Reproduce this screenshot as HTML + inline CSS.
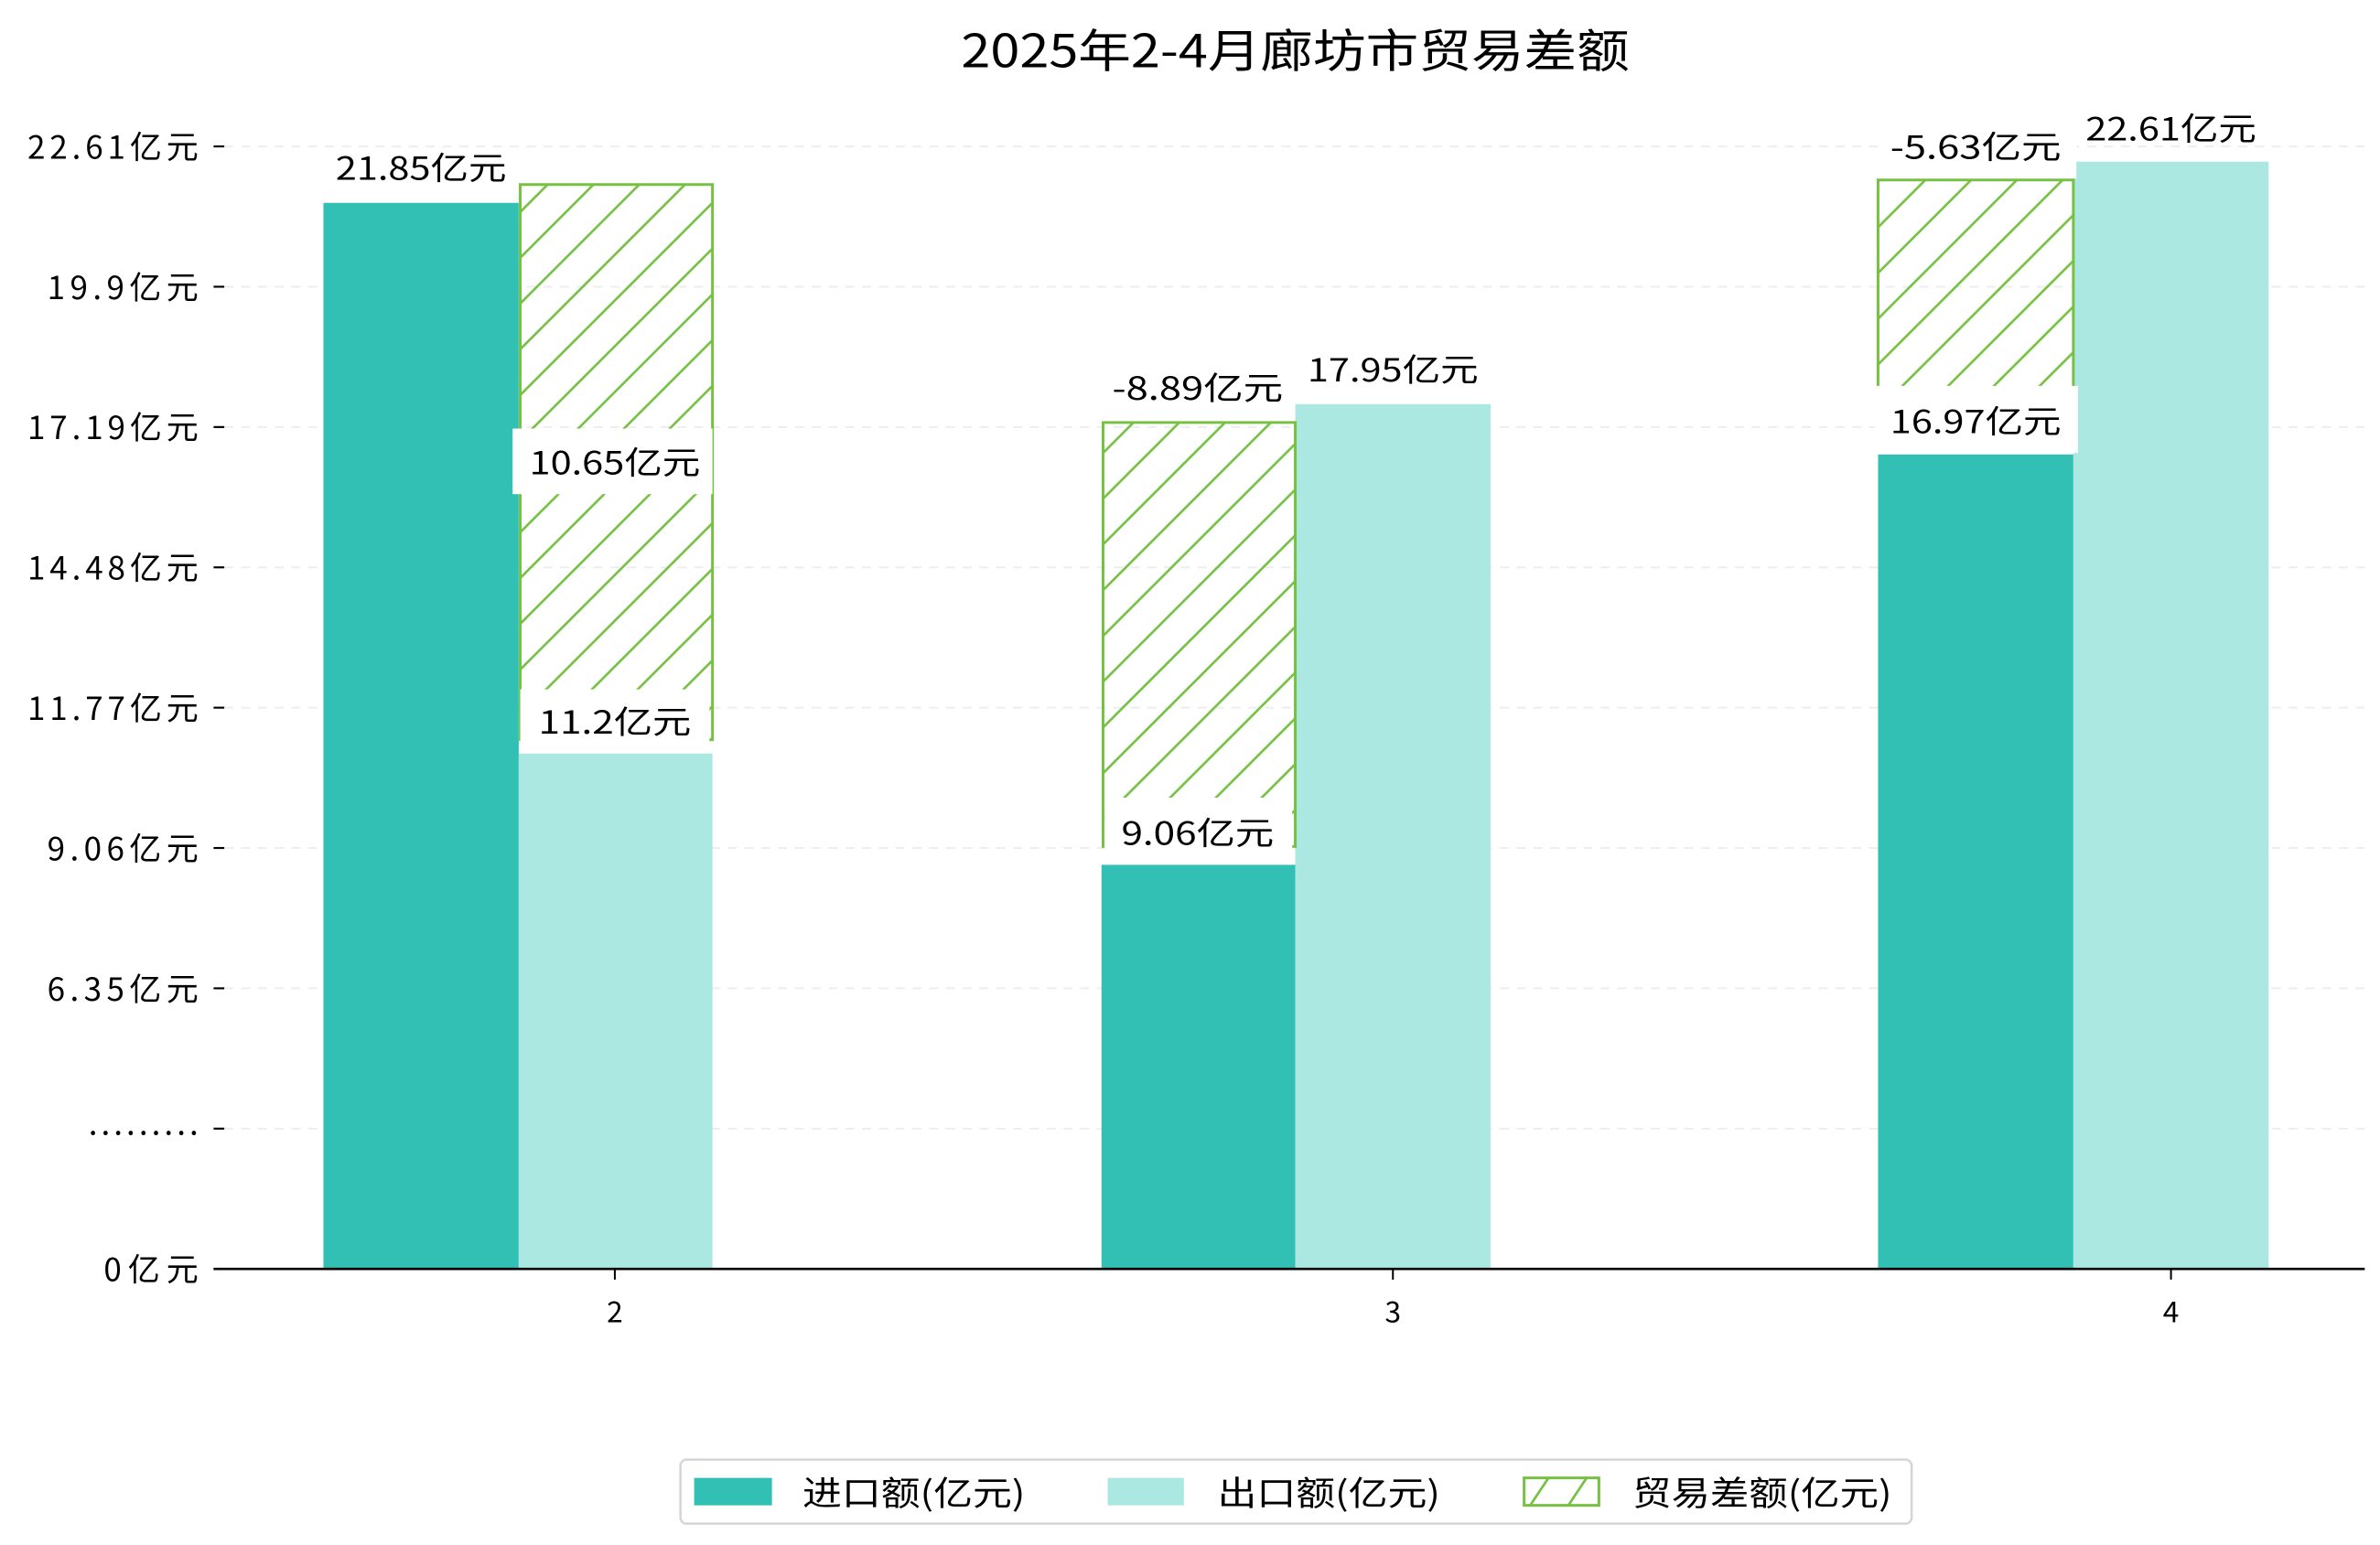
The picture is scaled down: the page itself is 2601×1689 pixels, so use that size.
<!DOCTYPE html>
<html><head><meta charset="utf-8"><style>html,body{margin:0;padding:0;background:#fff}svg{display:block}</style></head>
<body>
<svg width="2601" height="1689" viewBox="0 0 1560 1013" preserveAspectRatio="none" xmlns="http://www.w3.org/2000/svg" font-family="'WenQuanYi Zen Hei','Noto Sans CJK SC',sans-serif">
<defs>
<pattern id="h" patternUnits="userSpaceOnUse" width="30" height="30">
<path d="M-5,5 L5,-5 M0,30 L30,0 M25,35 L35,25" stroke="#76c043" stroke-width="1.6"/>
</pattern>
</defs>
<rect width="1560" height="1013" fill="#fff"/>
<text x="849" y="44" font-size="30" text-anchor="middle" textLength="438" lengthAdjust="spacingAndGlyphs">2025年2-4月廊坊市贸易差额</text>
<g stroke="#eee" stroke-width="1.2" stroke-dasharray="6,5">
<line x1="147" y1="96" x2="1550" y2="96"/><line x1="147" y1="188" x2="1550" y2="188"/><line x1="147" y1="280" x2="1550" y2="280"/><line x1="147" y1="372" x2="1550" y2="372"/><line x1="147" y1="464" x2="1550" y2="464"/><line x1="147" y1="556" x2="1550" y2="556"/><line x1="147" y1="648" x2="1550" y2="648"/><line x1="147" y1="740" x2="1550" y2="740"/>
</g>
<g stroke="#000" stroke-width="1.3">
<line x1="140" y1="96" x2="147" y2="96"/><line x1="140" y1="188" x2="147" y2="188"/><line x1="140" y1="280" x2="147" y2="280"/><line x1="140" y1="372" x2="147" y2="372"/><line x1="140" y1="464" x2="147" y2="464"/><line x1="140" y1="556" x2="147" y2="556"/><line x1="140" y1="648" x2="147" y2="648"/><line x1="140" y1="740" x2="147" y2="740"/><line x1="140" y1="832" x2="147" y2="832"/>
</g>
<g font-size="21" text-anchor="end" lengthAdjust="spacingAndGlyphs">
<text x="130" y="104" textLength="112">22.61亿元</text><text x="130" y="196" textLength="99">19.9亿元</text><text x="130" y="288" textLength="112">17.19亿元</text><text x="130" y="380" textLength="112">14.48亿元</text><text x="130" y="472" textLength="112">11.77亿元</text><text x="130" y="564" textLength="99">9.06亿元</text><text x="130" y="656" textLength="99">6.35亿元</text><text x="130" y="744" textLength="72">.........</text><text x="130" y="840" textLength="62">0亿元</text>
</g>
<rect x="212" y="133" width="128" height="699" fill="#31c0b3"/>
<rect x="340" y="494" width="127" height="338" fill="#abe8e2"/>
<rect x="722" y="567" width="127" height="265" fill="#31c0b3"/>
<rect x="849" y="265" width="128" height="567" fill="#abe8e2"/>
<rect x="1231" y="298" width="128" height="534" fill="#31c0b3"/>
<rect x="1359" y="106" width="128" height="726" fill="#abe8e2"/>
<rect x="341" y="121" width="126" height="364" fill="url(#h)" stroke="#76c043" stroke-width="1.8"/>
<rect x="723" y="277" width="126" height="278" fill="url(#h)" stroke="#76c043" stroke-width="1.8"/>
<rect x="1231" y="118" width="128" height="142" fill="url(#h)" stroke="#76c043" stroke-width="1.8"/>
<rect x="336" y="281" width="131" height="43" fill="#fff"/>
<rect x="341" y="452" width="124" height="42" fill="#fff"/>
<rect x="724" y="523" width="123" height="44" fill="#fff"/>
<rect x="1229" y="253" width="133" height="44" fill="#fff"/>
<rect x="1231" y="80" width="130" height="37" fill="#fff"/>
<rect x="722" y="238" width="127" height="38" fill="#fff"/>
<g font-size="21" text-anchor="middle">
<text x="276" y="118" textLength="112" lengthAdjust="spacingAndGlyphs">21.85亿元</text>
<text x="403" y="311" textLength="112" lengthAdjust="spacingAndGlyphs">10.65亿元</text>
<text x="403" y="481" textLength="100" lengthAdjust="spacingAndGlyphs">11.2亿元</text>
<text x="785" y="262" textLength="112" lengthAdjust="spacingAndGlyphs">-8.89亿元</text>
<text x="913" y="250" textLength="112" lengthAdjust="spacingAndGlyphs">17.95亿元</text>
<text x="785" y="554" textLength="100" lengthAdjust="spacingAndGlyphs">9.06亿元</text>
<text x="1295" y="104" textLength="112" lengthAdjust="spacingAndGlyphs">-5.63亿元</text>
<text x="1423" y="92" textLength="112" lengthAdjust="spacingAndGlyphs">22.61亿元</text>
<text x="1295" y="284" textLength="112" lengthAdjust="spacingAndGlyphs">16.97亿元</text>
</g>
<line x1="140" y1="832" x2="1550" y2="832" stroke="#000" stroke-width="1.6"/>
<g stroke="#000" stroke-width="1.2"><line x1="403" y1="832" x2="403" y2="839"/><line x1="913" y1="832" x2="913" y2="839"/><line x1="1423" y1="832" x2="1423" y2="839"/></g>
<g font-size="19" text-anchor="middle"><text x="403" y="867">2</text><text x="913" y="867">3</text><text x="1423" y="867">4</text></g>
<rect x="446" y="957" width="807" height="42" rx="4" fill="#fff" stroke="#d5d5d5" stroke-width="1.5"/>
<rect x="455" y="969" width="51" height="18" fill="#31c0b3"/>
<text x="526" y="987" font-size="22" textLength="146" lengthAdjust="spacingAndGlyphs">进口额(亿元)</text>
<rect x="726" y="969" width="50" height="18" fill="#abe8e2"/>
<text x="798" y="987" font-size="22" textLength="146" lengthAdjust="spacingAndGlyphs">出口额(亿元)</text>
<rect x="999" y="969" width="49" height="18" fill="#fff" stroke="#76c043" stroke-width="1.8"/>
<path d="M1003,987 L1015,969 M1028,987 L1040,969" stroke="#76c043" stroke-width="1.6"/>
<text x="1070" y="987" font-size="22" textLength="170" lengthAdjust="spacingAndGlyphs">贸易差额(亿元)</text>
</svg>
</body></html>
